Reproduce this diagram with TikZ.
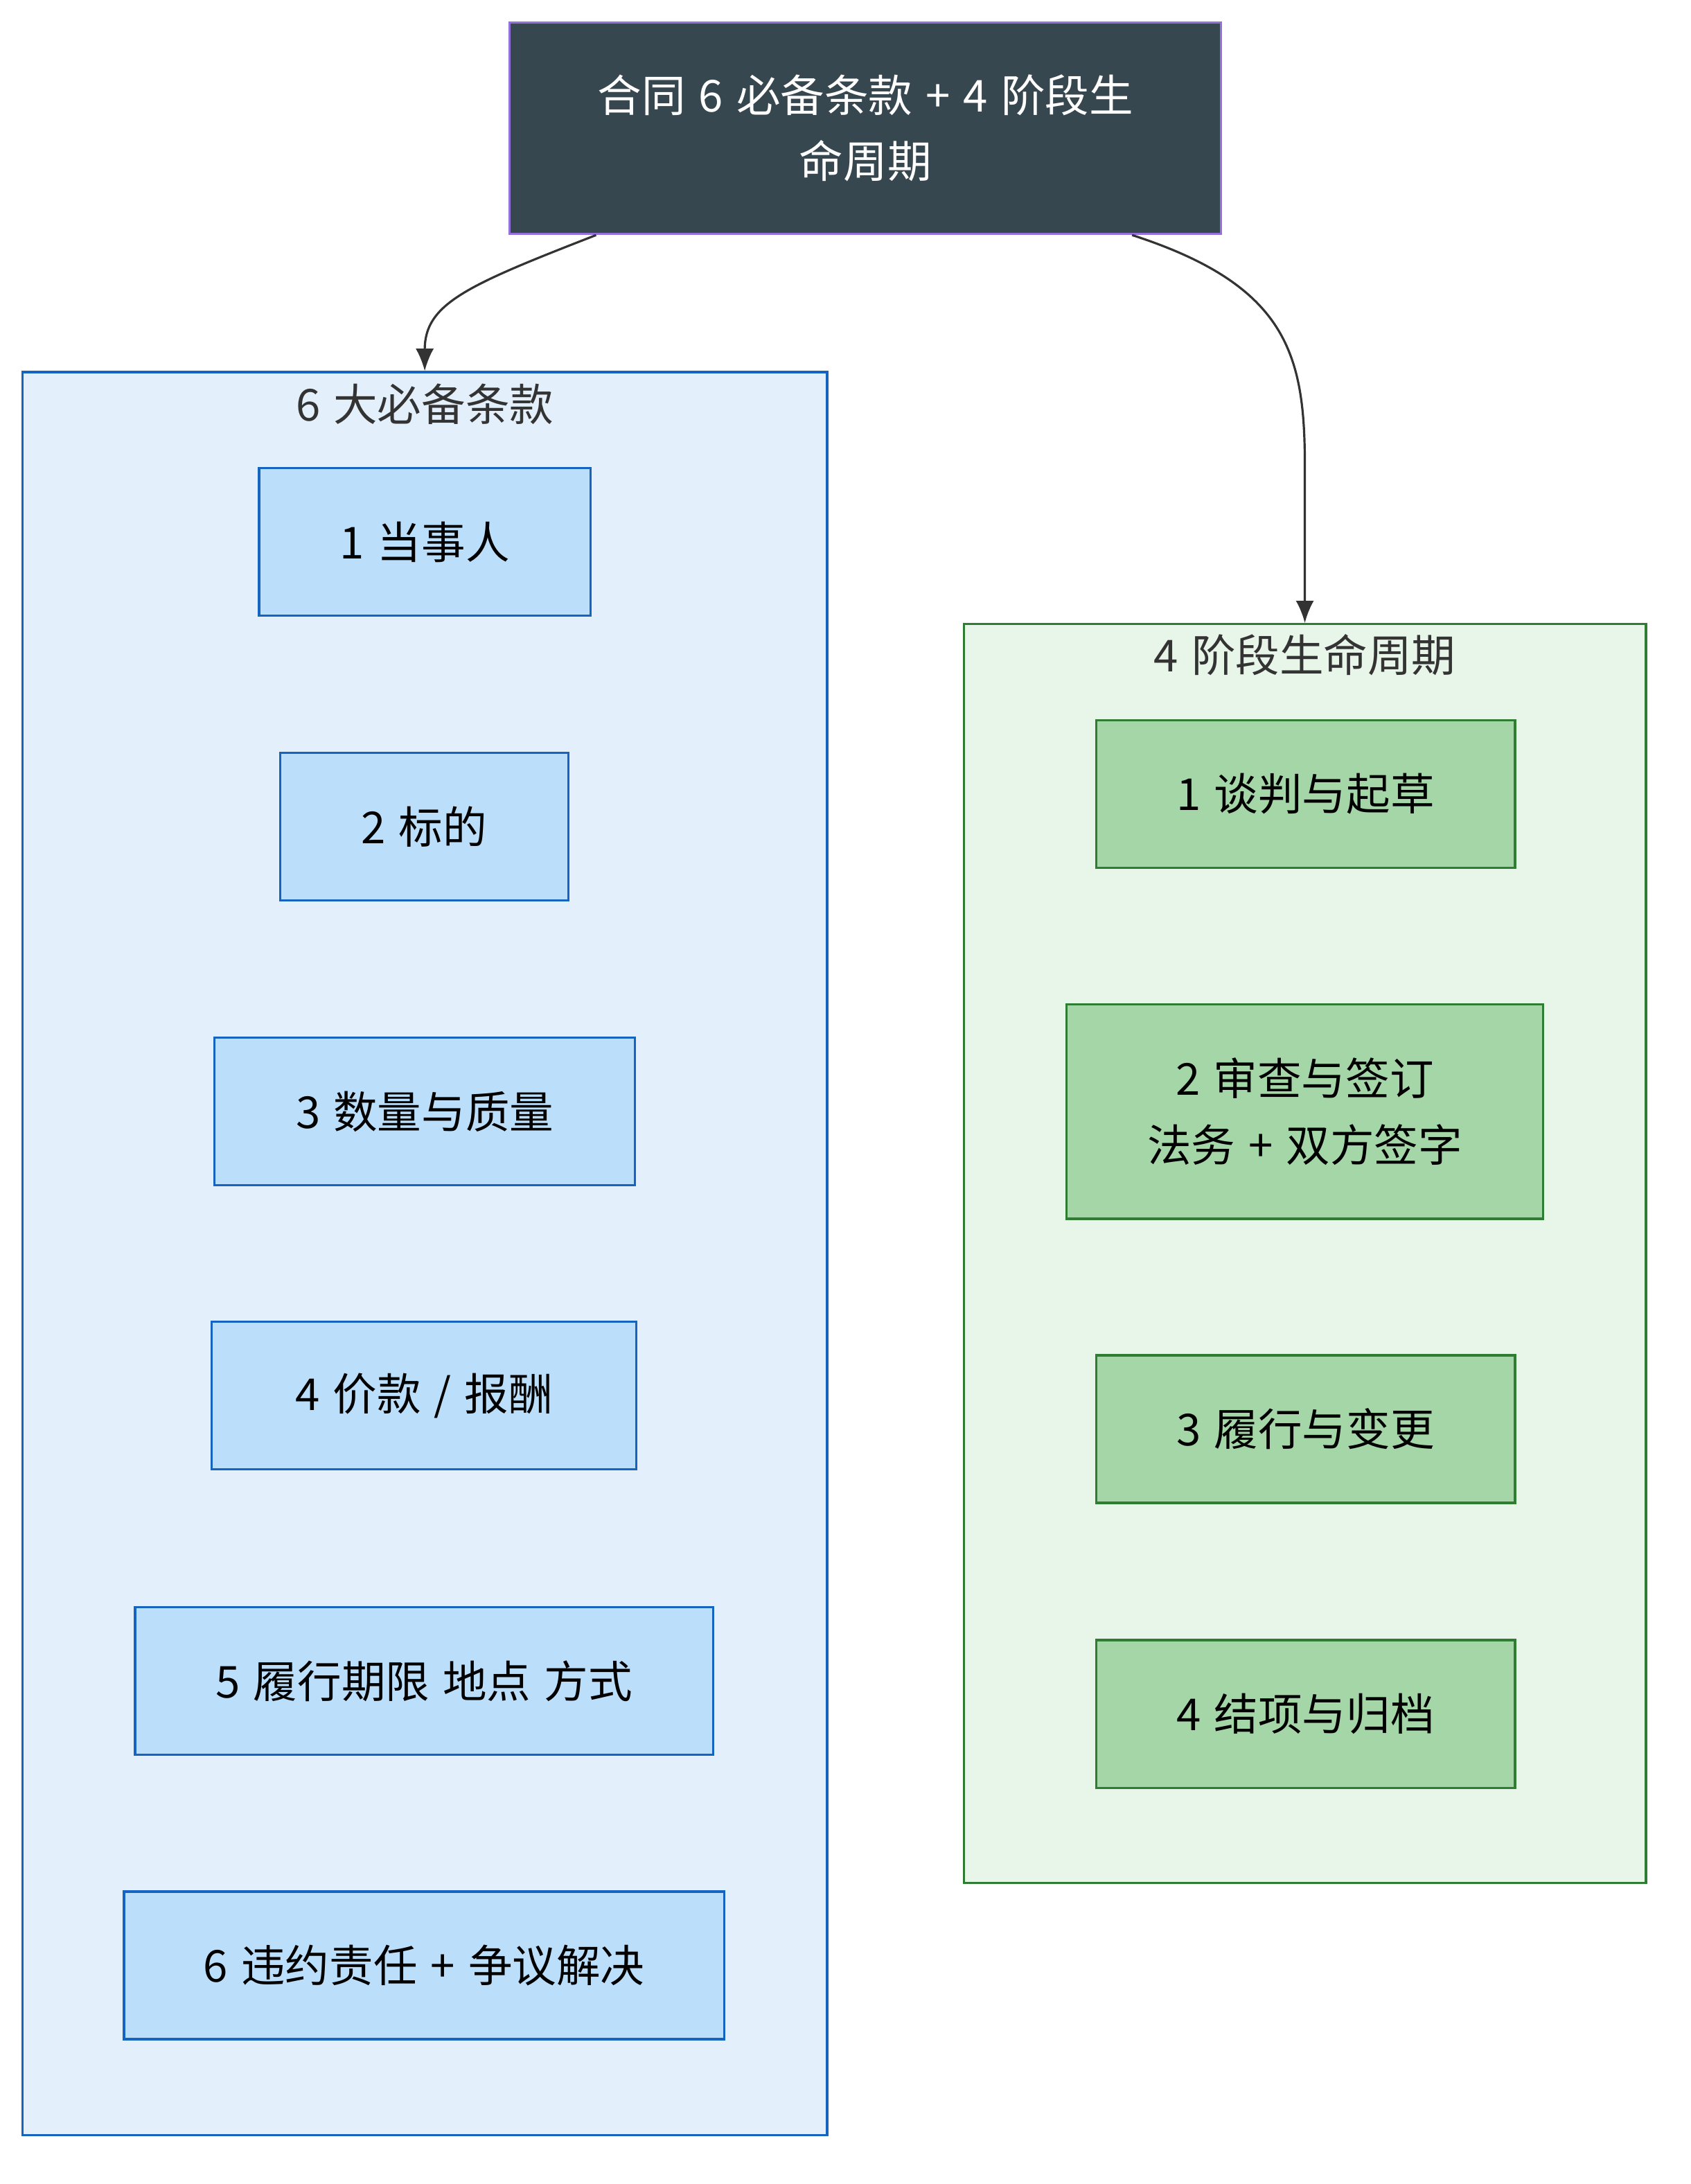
\documentclass[tikz,border=0pt]{standalone}
\usepackage{fontspec}
\setmainfont{Noto Sans CJK SC}
\usepackage{tikz}
\usetikzlibrary{arrows.meta, positioning, calc, backgrounds}
\definecolor{ctrdark}{HTML}{37474F}
\definecolor{ctrpurple}{HTML}{9370DB}
\definecolor{ctrblue}{HTML}{1565C0}
\definecolor{ctrlightblue}{HTML}{BBDEFB}
\definecolor{ctrpaleblue}{HTML}{E3F0FB}
\definecolor{ctrgreen}{HTML}{2E7D32}
\definecolor{ctrlightgreen}{HTML}{A5D6A7}
\definecolor{ctrpalegreen}{HTML}{E8F5E9}
\definecolor{ctrgray}{HTML}{333333}
\newcommand{\ctrfont}{\fontsize{18}{27}\selectfont\spaceskip=0.3em plus 0.1em}
\tikzset{
  rootblock/.style={
    rectangle, draw=ctrpurple, line width=0.9pt, fill=ctrdark,
    text=white, align=center, inner sep=0pt, font=\ctrfont
  },
  termblock/.style={
    rectangle, draw=ctrblue, line width=0.9pt, fill=ctrlightblue,
    minimum height=2.12cm, align=center, inner sep=0pt, font=\ctrfont
  },
  stageblock/.style={
    rectangle, draw=ctrgreen, line width=0.9pt, fill=ctrlightgreen,
    minimum height=2.12cm, align=center, inner sep=0pt, font=\ctrfont
  },
  groupbox/.style={rectangle, line width=0.9pt, inner sep=0pt},
  grouptitle/.style={text=ctrgray, font=\ctrfont},
  arrowflow/.style={-{Latex[length=0.32cm, width=0.26cm]}, line width=0.9pt, draw=ctrgray}
}

\begin{document}
\begin{tikzpicture}[x=0.02cm, y=-0.02cm]
\useasboundingbox (0,0) rectangle (1214,1568);

% -------- ROOT --------
\node[rootblock, minimum width=10.22cm, minimum height=3.04cm] (root) at (621.5,92)
  {合同 6 必备条款 + 4 阶段生\\命周期};

% -------- 6 TERMS (left) --------
\node[termblock, minimum width=4.76cm] (t1) at (305,389) {1 当事人};
\node[termblock, minimum width=4.14cm] (t2) at (304.5,593.5) {2 标的};
\node[termblock, minimum width=6.04cm] (t3) at (305,798) {3 数量与质量};
\node[termblock, minimum width=6.10cm] (t4) at (304.5,1002) {4 价款 / 报酬};
\node[termblock, minimum width=8.30cm] (t5) at (304.5,1207) {5 履行期限 地点 方式};
\node[termblock, minimum width=8.62cm] (t6) at (304.5,1411) {6 违约责任 + 争议解决};

% -------- 4 STAGES (right) --------
\node[stageblock, minimum width=6.02cm] (s1) at (937.5,570) {1 谈判与起草};
\node[stageblock, minimum width=6.84cm, minimum height=3.08cm] (s2) at (937,798)
  {2 审查与签订\\法务 + 双方签字};
\node[stageblock, minimum width=6.02cm] (s3) at (937.5,1026) {3 履行与变更};
\node[stageblock, minimum width=6.02cm] (s4) at (937.5,1230.5) {4 结项与归档};

\begin{scope}[on background layer]
\node[groupbox, draw=ctrblue, fill=ctrpaleblue, minimum width=11.56cm, minimum height=25.32cm] (terms) at (305,900) {};
\node[groupbox, draw=ctrgreen, fill=ctrpalegreen, minimum width=9.8cm, minimum height=18.08cm] (stages) at (937,900) {};
\end{scope}

\node[grouptitle] (termstitle) at (305,290) {6 大必备条款};
\node[grouptitle] (stagestitle) at (937,470) {4 阶段生命周期};

% root -> groups
\draw[arrowflow] ([xshift=-3.87cm]root.south) .. controls (335,205) and (305,218) .. (terms.north);
\draw[arrowflow] ([xshift=3.83cm]root.south) .. controls (925,205) and (937,255) .. (937,335) -- (stages.north);

\end{tikzpicture}
\end{document}
